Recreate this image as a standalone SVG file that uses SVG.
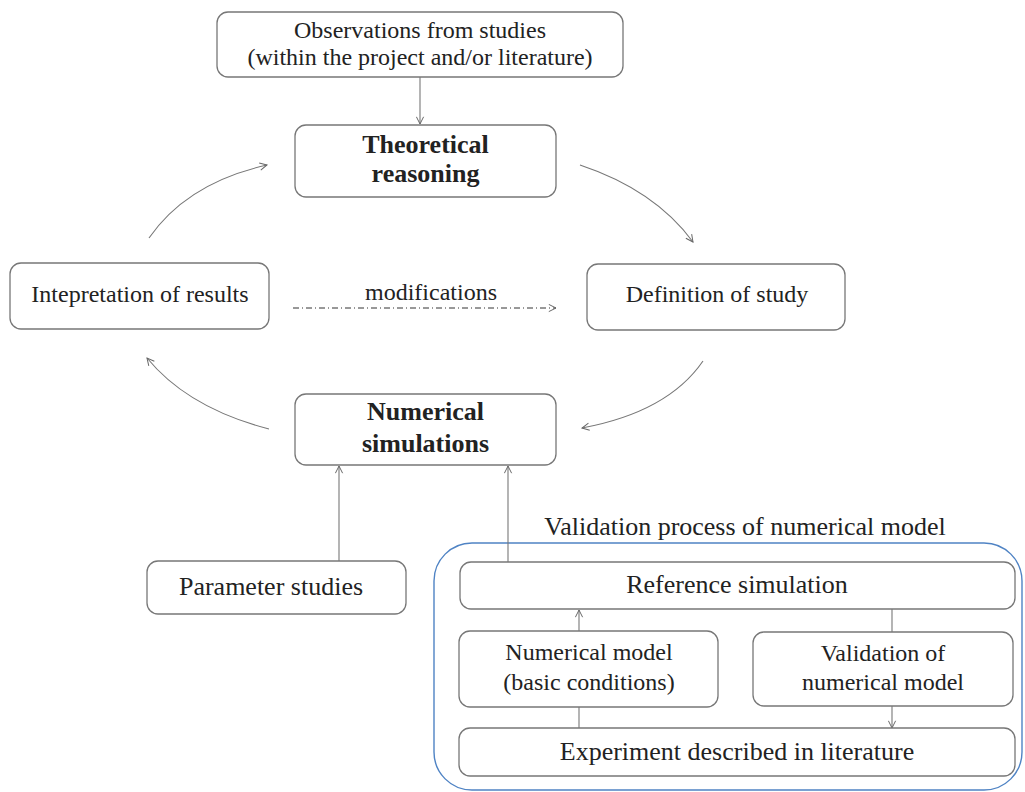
<svg xmlns="http://www.w3.org/2000/svg" width="1025" height="792" viewBox="0 0 1025 792" font-family="'Liberation Serif', 'Times New Roman', Tinos, 'DejaVu Serif', serif">
<defs>
<marker id="ah" viewBox="0 0 10 10" refX="9" refY="5" markerWidth="9" markerHeight="9" markerUnits="userSpaceOnUse" orient="auto">
<path d="M1,1 L9,5 L1,9" fill="none" stroke="#666" stroke-width="1.1"/>
</marker>
<style>
.box{fill:#fff;stroke:#777;stroke-width:1.3}
.t{font-family:'Liberation Serif','Times New Roman',Tinos,'DejaVu Serif',serif;fill:#222;text-anchor:middle;font-size:24px}
.b{font-weight:bold;font-size:26px}
.l{font-size:26px}
.c{fill:none;stroke:#777;stroke-width:1.1}
.a{marker-end:url(#ah)}
</style>
</defs>
<rect width="1025" height="792" fill="#fff"/>
<g id="validation-group">
<rect x="434" y="543" width="588" height="247" rx="38" fill="none" stroke="#4f83c4" stroke-width="1.4"/>
<text class="t l" x="745" y="535">Validation process of numerical model</text>
</g>
<g id="connectors">
<line class="c a" x1="420" y1="77" x2="420" y2="124"/>
<path class="c a" d="M580,165 Q655,190 693,242"/>
<path class="c a" d="M703,361 Q668,412 582,428"/>
<path class="c a" d="M269,429 Q188,408 147,358"/>
<path class="c a" d="M149,238 Q187,183 267,165"/>
<line class="a" x1="293" y1="308" x2="556" y2="308" stroke="#333" stroke-width="1" stroke-dasharray="6,3,1,3" fill="none"/>
<line class="c a" x1="339" y1="561" x2="339" y2="466"/>
<line class="c a" x1="508" y1="562" x2="508" y2="466"/>
<line class="c a" x1="579" y1="631" x2="579" y2="610"/>
<line class="c" x1="579" y1="707" x2="579" y2="728"/>
<line class="c" x1="892" y1="609" x2="892" y2="632"/>
<line class="c a" x1="892" y1="706" x2="892" y2="728"/>
</g>
<text class="t" x="431" y="300">modifications</text>
<g id="observations">
<rect class="box" x="217" y="12" width="406" height="65" rx="11"/>
<text class="t" x="420" y="38">Observations from studies</text>
<text class="t" x="420" y="65">(within the project and/or literature)</text>
</g>
<g id="theoretical">
<rect class="box" x="295" y="125" width="261" height="72" rx="11"/>
<text class="t b" x="425.5" y="153">Theoretical</text>
<text class="t b" x="425.5" y="182">reasoning</text>
</g>
<g id="interpretation">
<rect class="box" x="10" y="263" width="259" height="66" rx="11"/>
<text class="t" x="140" y="302">Intepretation of results</text>
</g>
<g id="definition">
<rect class="box" x="587" y="264" width="258" height="66" rx="11"/>
<text class="t" x="717" y="302">Definition of study</text>
</g>
<g id="numerical">
<rect class="box" x="295" y="394" width="261" height="71" rx="11"/>
<text class="t b" x="425.5" y="420">Numerical</text>
<text class="t b" x="425.5" y="452">simulations</text>
</g>
<g id="parameter">
<rect class="box" x="147" y="561" width="259" height="53" rx="11"/>
<text class="t l" x="271" y="595">Parameter studies</text>
</g>
<g id="reference">
<rect class="box" x="460" y="562" width="555" height="47" rx="11"/>
<text class="t l" x="737" y="593">Reference simulation</text>
</g>
<g id="numerical-model">
<rect class="box" x="459" y="631" width="259" height="76" rx="11"/>
<text class="t" x="589" y="660">Numerical model</text>
<text class="t" x="589" y="690">(basic conditions)</text>
</g>
<g id="validation-model">
<rect class="box" x="753" y="632" width="260" height="74" rx="11"/>
<text class="t" x="883" y="661">Validation of</text>
<text class="t" x="883" y="690">numerical model</text>
</g>
<g id="experiment">
<rect class="box" x="459" y="728" width="556" height="48" rx="11"/>
<text class="t l" x="737" y="760">Experiment described in literature</text>
</g>
</svg>
